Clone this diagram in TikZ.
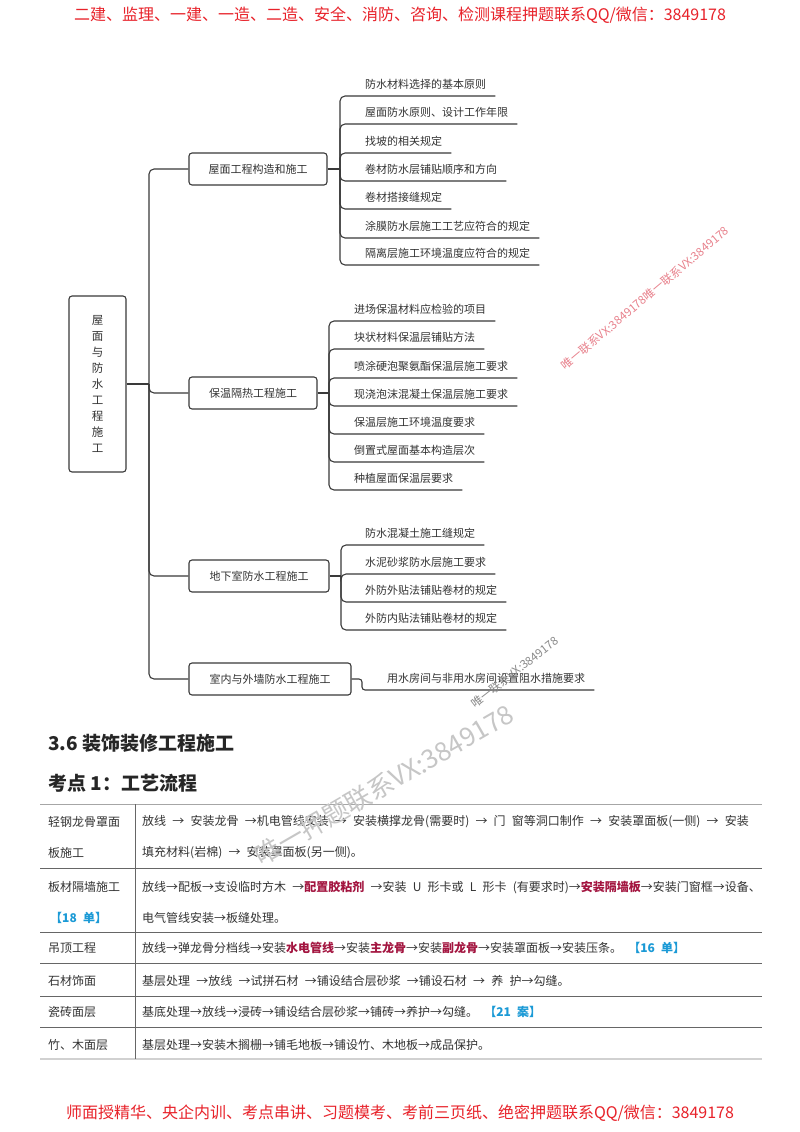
\documentclass[tikz,border=0pt]{standalone}
\usepackage{fontspec}
\setmainfont{Noto Sans CJK SC}
\usetikzlibrary{positioning,calc}
\definecolor{ink}{HTML}{333333}
\definecolor{edge}{HTML}{3A3A3A}
\definecolor{adred}{HTML}{E8222A}
\definecolor{keyred}{HTML}{A31540}
\definecolor{tagblue}{HTML}{1B9AD6}
\definecolor{markred}{HTML}{E8818C}
\definecolor{markgray}{HTML}{8A8A8A}
\definecolor{markpale}{HTML}{C6C6C6}
\newcommand{\kw}[1]{\textcolor{keyred}{\bfseries #1}}
\newcommand{\qtag}[1]{\textcolor{tagblue}{\bfseries #1}}
\newcommand{\tablefont}{\fontsize{12}{14}\selectfont\spaceskip=6.2pt plus 1pt\relax}

\begin{document}
\begin{tikzpicture}[x=1pt, y=-1pt,
    ad/.style={text=adred, font=\fontsize{16}{18}\selectfont},
    rootbox/.style={draw=edge, line width=1.1pt, rounded corners=3pt, minimum width=57pt, minimum height=176pt, align=center, text=ink, font=\fontsize{11.5}{16.1}\selectfont},
    box/.style={draw=edge, line width=1.1pt, rounded corners=3pt, minimum height=32pt, text=ink, font=\fontsize{11}{13}\selectfont},
    leaf/.style={anchor=south west, inner xsep=0pt, inner ysep=6pt, text=ink, font=\fontsize{11}{13}\selectfont},
    link/.style={draw=edge, line width=1.1pt, rounded corners=5pt},
    heading/.style={anchor=west, inner xsep=0pt, text=black!85, font=\fontsize{19}{22}\selectfont\bfseries},
    cell/.style={anchor=west, inner xsep=0pt, text=ink, font=\tablefont},
    rule/.style={draw=black!60, line width=0.8pt},
    rulelight/.style={draw=black!35, line width=0.8pt},
    rulebottom/.style={draw=black!18, line width=1.6pt},
    wmark/.style={font=\fontsize{11.5}{13}\selectfont}
]
\path[use as bounding box, fill=white] (0,0) rectangle (800,1132);

\node[ad] (head) at (400,15) {二建、监理、一建、一造、二造、安全、消防、咨询、检测课程押题联系QQ/微信：3849178};

\node[rootbox] (root) at (97.5,384) {屋\\面\\与\\防\\水\\工\\程\\施\\工};
\coordinate (t) at (149,384);

\node[box, minimum width=138pt] (b1) at (258,169) {屋面工程构造和施工};
\node[box, minimum width=128pt] (b2) at (253,393) {保温隔热工程施工};
\node[box, minimum width=140pt] (b3) at (259,576) {地下室防水工程施工};
\node[box, minimum width=162pt] (b4) at (270,679) {室内与外墙防水工程施工};

\coordinate (j1) at (340,169);
\coordinate (j2) at (329,393);
\coordinate (j3) at (341,576);
\coordinate (j4) at (362,679);

\node[leaf] (l11) at (365,96) {防水材料选择的基本原则};
\node[leaf] (l12) at (365,124) {屋面防水原则、设计工作年限};
\node[leaf] (l13) at (365,153) {找坡的相关规定};
\node[leaf] (l14) at (365,181) {卷材防水层铺贴顺序和方向};
\node[leaf] (l15) at (365,209) {卷材搭接缝规定};
\node[leaf] (l16) at (365,238) {涂膜防水层施工工艺应符合的规定};
\node[leaf] (l17) at (365,265) {隔离层施工环境温度应符合的规定};

\node[leaf] (l21) at (354,321) {进场保温材料应检验的项目};
\node[leaf] (l22) at (354,349) {块状材料保温层铺贴方法};
\node[leaf] (l23) at (354,378) {喷涂硬泡聚氨酯保温层施工要求};
\node[leaf] (l24) at (354,406) {现浇泡沫混凝土保温层施工要求};
\node[leaf] (l25) at (354,434) {保温层施工环境温度要求};
\node[leaf] (l26) at (354,462) {倒置式屋面基本构造层次};
\node[leaf] (l27) at (354,490) {种植屋面保温层要求};

\node[leaf] (l31) at (365,545) {防水混凝土施工缝规定};
\node[leaf] (l32) at (365,574) {水泥砂浆防水层施工要求};
\node[leaf] (l33) at (365,602) {外防外贴法铺贴卷材的规定};
\node[leaf] (l34) at (365,630) {外防内贴法铺贴卷材的规定};

\node[leaf] (l41) at (387,690) {用水房间与非用水房间设置阻水措施要求};

\draw[link] (root) -- (t);
\draw[link] (t) |- (b1);
\draw[link] (t) |- (b2);
\draw[link] (t) |- (b3);
\draw[link] (t) |- (b4);

\draw[link] (b1) -- (j1);
\draw[link] (j1) |- ([xshift=9pt]l11.south east);
\draw[link] (j1) |- ([xshift=9pt]l12.south east);
\draw[link] (j1) |- ([xshift=9pt]l13.south east);
\draw[link] (j1) |- ([xshift=9pt]l14.south east);
\draw[link] (j1) |- ([xshift=9pt]l15.south east);
\draw[link] (j1) |- ([xshift=9pt]l16.south east);
\draw[link] (j1) |- ([xshift=9pt]l17.south east);

\draw[link] (b2) -- (j2);
\draw[link] (j2) |- ([xshift=9pt]l21.south east);
\draw[link] (j2) |- ([xshift=9pt]l22.south east);
\draw[link] (j2) |- ([xshift=9pt]l23.south east);
\draw[link] (j2) |- ([xshift=9pt]l24.south east);
\draw[link] (j2) |- ([xshift=9pt]l25.south east);
\draw[link] (j2) |- ([xshift=9pt]l26.south east);
\draw[link] (j2) |- ([xshift=9pt]l27.south east);

\draw[link] (b3) -- (j3);
\draw[link] (j3) |- ([xshift=9pt]l31.south east);
\draw[link] (j3) |- ([xshift=9pt]l32.south east);
\draw[link] (j3) |- ([xshift=9pt]l33.south east);
\draw[link] (j3) |- ([xshift=9pt]l34.south east);

\draw[link, rounded corners=3pt] (b4) -- (j4) |- ([xshift=9pt]l41.south east);

\node[heading] (sec) at (48,743) {3.6 装饰装修工程施工};
\node[heading] (pt) at (48,783) {考点 1：工艺流程};

\draw[rulelight] (40,804) -- (762,804);
\draw[rule] (40,868) -- (762,868);
\draw[rule] (40,932) -- (762,932);
\draw[rule] (40,963) -- (762,963);
\draw[rule] (40,996) -- (762,996);
\draw[rule] (40,1027) -- (762,1027);
\draw[rulebottom] (40,1059) -- (762,1059);
\draw[rule] (135,804) -- (135,1059);

\node[cell] (c1a) at (48,822) {轻钢龙骨罩面};
\node[cell] (c1b) at (48,853) {板施工};
\node[cell] (c2a) at (48,887) {板材隔墙施工};
\node[cell] (c2b) at (50,918) {\qtag{【18 单】}};
\node[cell] (c3) at (48,948) {吊顶工程};
\node[cell] (c4) at (48,981) {石材饰面};
\node[cell] (c5) at (48,1012) {瓷砖面层};
\node[cell] (c6) at (48,1045) {竹、木面层};

\node[cell] (f1a) at (142,822) {放线 → 安装龙骨 →机电管线安装 → 安装横撑龙骨(需要时) → 门 窗等洞口制作 → 安装罩面板(一侧) → 安装};
\node[cell] (f1b) at (142,853) {填充材料(岩棉) → 安装罩面板(另一侧)。};
\node[cell] (f2a) at (142,887) {放线→配板→支设临时方木 →\kw{配置胶粘剂} →安装 U 形卡或 L 形卡 (有要求时)→\kw{安装隔墙板}→安装门窗框→设备、};
\node[cell] (f2b) at (142,918) {电气管线安装→板缝处理。};
\node[cell] (f3) at (142,948) {放线→弹龙骨分档线→安装\kw{水电管线}→安装\kw{主龙骨}→安装\kw{副龙骨}→安装罩面板→安装压条。 \qtag{【16 单】}};
\node[cell] (f4) at (142,981) {基层处理 →放线 →试拼石材 →铺设结合层砂浆 →铺设石材 → 养 护→勾缝。};
\node[cell] (f5) at (142,1012) {基底处理→放线→浸砖→铺设结合层砂浆→铺砖→养护→勾缝。 \qtag{【21 案】}};
\node[cell] (f6) at (142,1045) {基层处理→安装木搁栅→铺毛地板→铺设竹、木地板→成品保护。};

\node[wmark, text=markred, rotate=40] (wm1) at (645,298) {唯一联系VX:3849178唯一联系VX:3849178};
\node[wmark, text=markgray, rotate=38] (wm2) at (515,672) {唯一联系VX:3849178};
\node[wmark, text=markpale, rotate=30, font=\fontsize{26}{28}\selectfont] (wm3) at (384,785) {唯一押题联系VX:3849178};

\node[ad] (foot) at (400,1113) {师面授精华、央企内训、考点串讲、习题模考、考前三页纸、绝密押题联系QQ/微信：3849178};
\end{tikzpicture}
\end{document}
